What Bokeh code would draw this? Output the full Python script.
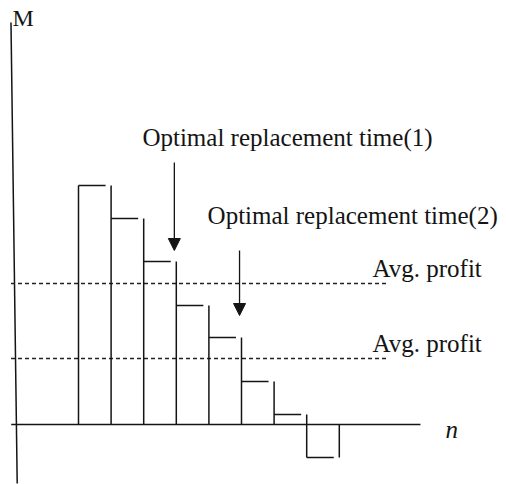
import numpy as np
from bokeh.plotting import figure
from bokeh.models import Arrow, NormalHead
from bokeh.core.properties import value
from bokeh.embed import file_html
from bokeh.resources import INLINE

# ---- data ----
n_start = [2, 3, 4, 5, 6, 7, 8, 9]                      # period n (bar left edge)
profit = [23.9, 20.6, 16.3, 11.9, 8.7, 4.3, 1.0, -3.3]  # marginal profit M per period
avg_profit = [14.1, 6.6]                                 # average profit levels
optimal_n = [5, 7]                                       # optimal replacement times
opt_labels = ["Optimal replacement time(1)", "Optimal replacement time(2)"]
avg_label = "Avg. profit"

# ---- layout constants ----
FONT = value("Liberation Serif")
INK = "#141414"
gap = 0.17

p = figure(width=506, height=484, x_range=(-0.3926, 15.129), y_range=(-6.0, 42.4),
           output_backend="svg", toolbar_location=None,
           x_axis_type=None, y_axis_type=None, min_border=0)
p.outline_line_color = None
p.xgrid.visible = False
p.ygrid.visible = False
p.background_fill_color = "white"

# axes lines
p.segment(x0=[-0.071], y0=[40.2], x1=[0.12], y1=[-5.9], line_color=INK, line_width=1.5)
p.segment(x0=[-0.064], y0=[0], x1=[12.49], y1=[0], line_color=INK, line_width=1.5)

# average profit dashed lines
p.segment(x0=[-0.07] * len(avg_profit), y0=avg_profit, x1=[11.48] * len(avg_profit),
          y1=avg_profit, line_color="#222222", line_width=1.5, line_dash="4 3")

# bars: vertical edges
n_arr = np.array(n_start, dtype=float)
h = np.array(profit, dtype=float)
bounds = np.append(n_arr, n_arr[-1] + 1)
h_ext = np.concatenate([[0.0], h, [0.0]])
vy0 = [min(0.0, h_ext[i], h_ext[i + 1]) for i in range(len(bounds))]
vy1 = [max(0.0, h_ext[i], h_ext[i + 1]) for i in range(len(bounds))]
p.segment(x0=bounds, y0=vy0, x1=bounds, y1=vy1, line_color=INK, line_width=1.5)
# bars: tops
p.segment(x0=n_arr, y0=h, x1=n_arr + 1 - gap, y1=h, line_color=INK, line_width=1.5)

# arrows to optimal replacement times
arrow_tail = [26.2, 17.4]
arrow_tip = [17.4, 10.9]
for k, n in enumerate(optimal_n):
    p.add_layout(Arrow(end=NormalHead(size=12, fill_color=INK, line_color=INK, line_width=1),
                       x_start=n - 0.06, y_start=arrow_tail[k], x_end=n - 0.06, y_end=arrow_tip[k],
                       line_color=INK, line_width=1.3))

# texts
p.text(x=[-0.025], y=[40.7], text=["M"], text_font=FONT, text_font_size="24px",
       text_baseline="alphabetic", text_align="left", text_color=INK)
p.text(x=[3.96, 5.96], y=[28.7, 20.9], text=opt_labels, text_font=FONT, text_font_size="25px",
       text_baseline="alphabetic", text_align="left", text_color=INK)
p.text(x=[11.02, 11.02], y=[a + 1.55 for a in avg_profit], text=[avg_label, avg_label],
       text_font=FONT, text_font_size="25px", text_baseline="alphabetic", text_align="left",
       text_color=INK)
p.text(x=[13.26], y=[-0.5], text=["n"], text_font=FONT, text_font_size="25px",
       text_font_style="italic", text_baseline="alphabetic", text_align="left", text_color=INK)

open("out.html", "w").write(file_html(p, INLINE))
